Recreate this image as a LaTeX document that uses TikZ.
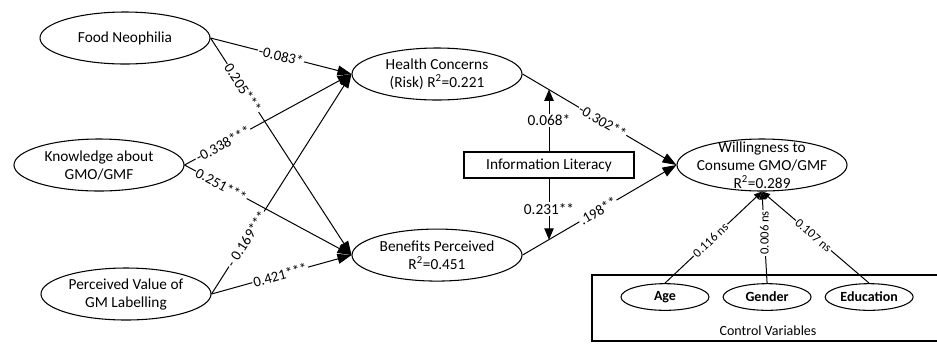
\documentclass[tikz,border=0pt]{standalone}
\usepackage{fontspec}
\setmainfont{Carlito}
\usetikzlibrary{shapes.geometric, arrows.meta, positioning}

\begin{document}
\begin{tikzpicture}[
    x=0.75pt, y=-0.75pt,
    latent/.style={ellipse, draw, line width=0.8pt, minimum width=127.5pt, minimum height=39pt, inner sep=0pt, align=center, font=\fontsize{11.5}{13.5}\selectfont},
    control/.style={ellipse, draw, line width=0.8pt, minimum width=66pt, minimum height=20pt, inner sep=0pt, font=\fontsize{10.5}{12}\selectfont\bfseries},
    box/.style={rectangle, draw, line width=0.8pt, minimum width=127.5pt, minimum height=19.5pt, font=\fontsize{11.5}{13.5}\selectfont},
    effect/.style={-{Triangle[length=10.5pt,width=7.5pt]}, line width=0.75pt},
    moderate/.style={-{Triangle[length=8.5pt,width=7pt]}, line width=0.75pt},
    ctrlarrow/.style={-{Triangle[length=6pt,width=5pt]}, line width=0.75pt},
    coef/.style={sloped, fill=white, inner sep=0.8pt, font=\fontsize{11}{13}\selectfont},
    modlbl/.style={fill=white, inner sep=1pt, font=\fontsize{11.5}{13.5}\selectfont},
    ns/.style={fill=white, inner sep=1pt, font=\fontsize{9.5}{11}\selectfont}
]
\useasboundingbox (0,0) rectangle (937,344);

% Exogenous constructs
\node[latent] (fn) at (125,38) {Food Neophilia};
\node[latent] (kn) at (99,165) {Knowledge about\\GMO/GMF};
\node[latent] (pv) at (126,294) {Perceived Value of\\GM Labelling};

% Mediators and moderator
\node[latent] (hc) at (437,74) {Health Concerns\\(Risk) R\textsuperscript{2}=0.221};
\node[latent, below=96pt of hc] (bp) {Benefits Perceived\\R\textsuperscript{2}=0.451};
\node[box] (il) at (549,165) {Information Literacy};

% Outcome
\node[latent, inner sep=-5pt] (wtc) at (762,165) {Willingness to\\Consume GMO/GMF\\R\textsuperscript{2}=0.289};

% Control variables
\draw[line width=0.8pt] (592,275) rectangle (945,341);
\node[control] (age) at (665,297) {Age};
\node[control, right=9.75pt of age] (gender) {Gender};
\node[control, right=9.75pt of gender] (edu) {Education};
\node[font=\fontsize{10.5}{12}\selectfont] (cv) at (768,331) {Control Variables};

% Structural paths
\draw[effect] (fn.east) -- node[coef, pos=0.5] (c1) {-0.083*} (hc.west);
\draw[effect] (fn.east) -- node[coef, pos=0.23] (c2) {0.205***} (bp.west);
\draw[effect] (kn.east) -- node[coef, pos=0.23] (c3) {-0.338***} (hc.west);
\draw[effect] (kn.east) -- node[coef, pos=0.22] (c4) {0.251***} (bp.west);
\draw[effect] (pv.east) -- node[coef, pos=0.25] (c5) {- 0.169***} (hc.west);
\draw[effect] (pv.east) -- node[coef, pos=0.49] (c6) {0.421***} (bp.west);
\draw[effect] (hc.east) -- node[coef, pos=0.52] (c7) {-0.302**} (wtc.west);
\draw[effect] (bp.east) -- node[coef, pos=0.49] (c8) {.198**} (wtc.west);

% Moderation
\path (hc.east) -- (wtc.west) coordinate[pos=0.17] (m1);
\path (bp.east) -- (wtc.west) coordinate[pos=0.17] (m2);
\draw[moderate] (il.north) -- node[modlbl] (c9) {0.068*} (il.north |- m1);
\draw[moderate] (il.south) -- node[modlbl] (c10) {0.231**} (il.south |- m2);

% Controls
\draw[ctrlarrow] (age.north) -- node[ns, sloped, pos=0.47] (c11) {0.116 ns} (wtc.south);
\draw[ctrlarrow] (gender.north) -- node[ns, rotate=90, pos=0.55] (c12) {0.006 ns} (wtc.south);
\draw[ctrlarrow] (edu.north) -- node[ns, sloped, pos=0.52] (c13) {0.107 ns} (wtc.south);

\end{tikzpicture}
\end{document}
